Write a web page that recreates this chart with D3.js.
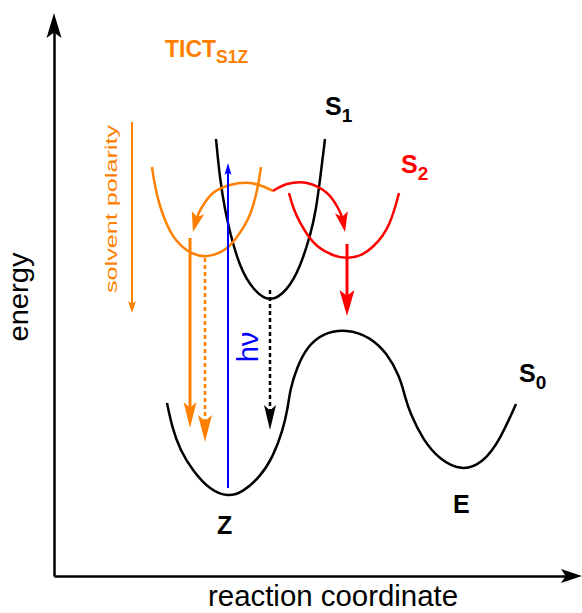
<!DOCTYPE html>
<meta charset="utf-8">
<style>
  body { margin: 0; background: #fff; }
  svg { display: block; font-family: "Liberation Sans", Arial, sans-serif; }
</style>
<body>
<div id="chart"></div>
<script src="https://d3js.org/d3.v7.min.js"></script>
<script>
  // potential energy curves, [reaction coordinate, energy] (arbitrary units)
  const s0Curve = [[113,173],[118,149],[126,126],[139,105],[156,86],[174,79],[189,84],[206,99],[219,119],[229,146],[234,169],
    [236,186],[243,209],[253,229],[269,243],[293,247],[316,239],[333,223],[346,199],[351,179],[356,163],[369,136],
    [386,116],[408,105],[429,113],[446,136],[462,172]];
  const s1Curve = [[162,437],[166,396],[171,366],[176,343],[186,308],[199,286],[216,273],[233,285],[246,308],[257,343],[262,366],[266,396],[271,437]];
  const tictCurve = [[98,409],[101,389],[106,369],[112,353],[119,339],[127,330],[136,323],[151,318],[169,324],[178,332],[186,343],[194,356],[199,369],[204,389],[207,409]];
  const s2Curve = [[235,383],[239,368],[246,353],[254,340],[263,329],[279,320],[294,317],[309,321],[319,329],[329,340],[336,353],[341,368],[345,383]];

  // population transfer out of S1 (curved arrows)
  const tictHop = [[219,385],[208,390],[196,393],[176,391],[159,383],[148,369],[142,356],[139,344]];
  const s2Hop = [[219,385],[233,392],[253,393],[273,383],[284,368],[289,356],[291,344]];

  // vertical transitions: [reaction coordinate, energy from, energy to]
  const tictEmission = [136, 338, 148];
  const tictDark = [151, 318, 134];
  const absorption = [174, 88, 413];
  const s1Decay = [216, 286, 146];
  const s2Decay = [293, 332, 260];
  const polarityArrow = [78, 454, 263];

  // labels anchored in data units
  const stateLabels = [
    { main: 'S', sub: '1', at: [271, 461], color: 'black' },
    { main: 'S', sub: '2', at: [347, 403], color: 'red' },
    { main: 'S', sub: '0', at: [465, 194], color: 'black' },
    { main: 'E', sub: '', at: [399, 63], color: 'black' },
    { main: 'Z', sub: '', at: [163, 42], color: 'black' }
  ];
  const tictLabel = { main: 'TICT', sub: 'S1Z', at: [111, 519] };

  const width = 582, height = 613;
  const orange = '#ff8000', red = '#ff0000', blue = '#0000ff';

  const svg = d3.select('#chart').append('svg')
    .attr('width', width)
    .attr('height', height);

  const x = d3.scaleLinear().domain([0, 528]).range([54, 582]);
  const y = d3.scaleLinear().domain([0, 563]).range([576, 13]);

  const curve = d3.line()
    .x(d => x(d[0]))
    .y(d => y(d[1]))
    .curve(d3.curveCatmullRom.alpha(0.5));
  const smooth = d3.line()
    .x(d => x(d[0]))
    .y(d => y(d[1]))
    .curve(d3.curveBasis);

  function head(from, tip, L, W, color) {
    const a = Math.atan2(tip[1] - from[1], tip[0] - from[0]) * 180 / Math.PI;
    svg.append('path')
      .attr('d', `M0,0L${-L},${-W / 2}L${-L * 0.78},0L${-L},${W / 2}Z`)
      .attr('transform', `translate(${tip[0]},${tip[1]}) rotate(${a})`)
      .attr('fill', color);
  }

  function vArrow(t, color, w, L, W, dash) {
    const px = x(t[0]), p0 = y(t[1]), p1 = y(t[2]);
    const dir = Math.sign(p1 - p0);
    svg.append('line')
      .attr('x1', px).attr('x2', px)
      .attr('y1', p0).attr('y2', p1 - dir * L * 0.6)
      .attr('stroke', color)
      .attr('stroke-width', w)
      .attr('stroke-dasharray', dash || null);
    head([px, p0], [px, p1], L, W, color);
  }

  function curvedArrow(pts, color, w, L, W) {
    const p = svg.append('path')
      .attr('d', curve(pts))
      .attr('fill', 'none')
      .attr('stroke', color)
      .attr('stroke-width', w);
    const n = p.node(), len = n.getTotalLength();
    const tip = n.getPointAtLength(len), back = n.getPointAtLength(len - L * 0.7);
    p.attr('stroke-dasharray', `${len - L * 0.6} ${len}`);
    head([back.x, back.y], [tip.x, tip.y], L, W, color);
  }

  // axes (no ticks, just arrows)
  svg.append('g')
    .attr('transform', `translate(${x(0)},0)`)
    .call(d3.axisLeft(y.copy().range([576, 28])).tickValues([]).tickSizeOuter(0))
    .select('.domain').attr('stroke-width', 2.5);
  head([x(0), y(100)], [x(0), y(563)], 25, 15, 'black');

  svg.append('g')
    .attr('transform', `translate(0,${y(0)})`)
    .call(d3.axisBottom(x.copy().range([54, 568])).tickValues([]).tickSizeOuter(0))
    .select('.domain').attr('stroke-width', 2.5);
  head([x(400), y(0)], [x(528), y(0)], 21, 14, 'black');

  svg.append('text')
    .attr('transform', `translate(28,${y(279)}) rotate(-90)`)
    .attr('text-anchor', 'middle')
    .attr('font-size', 28)
    .attr('textLength', 89)
    .attr('lengthAdjust', 'spacingAndGlyphs')
    .text('energy');

  svg.append('text')
    .attr('x', 333).attr('y', 606)
    .attr('text-anchor', 'middle')
    .attr('font-size', 29)
    .attr('textLength', 250)
    .attr('lengthAdjust', 'spacingAndGlyphs')
    .text('reaction coordinate');

  // energy surfaces
  const surfaces = [
    { pts: s0Curve, color: 'black' },
    { pts: s1Curve, color: 'black' },
    { pts: tictCurve, color: orange },
    { pts: s2Curve, color: red }
  ];
  svg.selectAll('path.surface')
    .data(surfaces)
    .join('path')
    .attr('class', 'surface')
    .attr('d', d => smooth(d.pts))
    .attr('fill', 'none')
    .attr('stroke', d => d.color)
    .attr('stroke-width', 2.5);

  // transitions
  curvedArrow(tictHop, orange, 2.5, 20, 13);
  curvedArrow(s2Hop, red, 2.5, 20, 13);
  vArrow(tictEmission, orange, 3, 26, 13);
  vArrow(tictDark, orange, 2.5, 27, 14, '4,3');
  vArrow(absorption, blue, 2, 12, 7);
  vArrow(s1Decay, 'black', 2.5, 25, 12, '4,3');
  vArrow(s2Decay, red, 3, 26, 15);
  vArrow(polarityArrow, orange, 2, 12, 8);

  svg.append('text')
    .attr('transform', `translate(117,${y(367)}) rotate(-90)`)
    .attr('text-anchor', 'middle')
    .attr('font-size', 17)
    .attr('fill', orange)
    .attr('textLength', 168)
    .attr('lengthAdjust', 'spacingAndGlyphs')
    .text('solvent polarity');

  svg.append('text')
    .attr('transform', `translate(${x(204)},${y(229)}) rotate(-90)`)
    .attr('text-anchor', 'middle')
    .attr('font-size', 29)
    .attr('fill', blue)
    .text('h\u03bd');

  // state labels
  const lab = svg.selectAll('text.state')
    .data(stateLabels)
    .join('text')
    .attr('class', 'state')
    .attr('x', d => x(d.at[0]))
    .attr('y', d => y(d.at[1]))
    .attr('font-size', 25)
    .attr('font-weight', 'bold')
    .attr('fill', d => d.color)
    .text(d => d.main);
  lab.append('tspan')
    .attr('dy', 7)
    .attr('font-size', 19)
    .text(d => d.sub);

  const tict = svg.append('text')
    .attr('x', x(tictLabel.at[0]))
    .attr('y', y(tictLabel.at[1]))
    .attr('font-size', 23)
    .attr('font-weight', 'bold')
    .attr('fill', orange)
    .text(tictLabel.main);
  tict.append('tspan')
    .attr('dy', 6)
    .attr('font-size', 17.5)
    .text(tictLabel.sub);
</script>
</body>
